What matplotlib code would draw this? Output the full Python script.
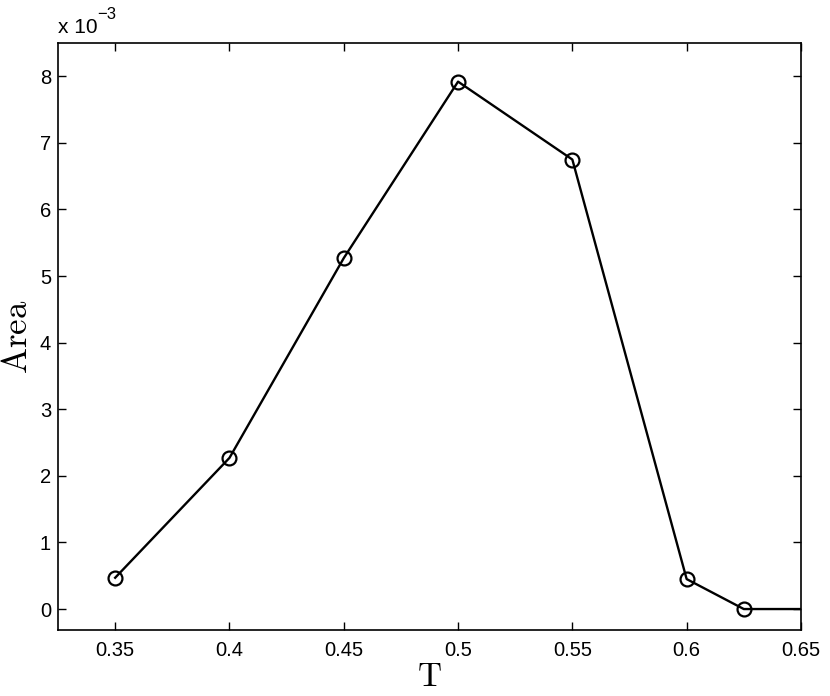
import numpy as np
import matplotlib
matplotlib.use('Agg')
import matplotlib.pyplot as plt

plt.rcParams['font.family'] = ['Liberation Sans', 'DejaVu Sans']
plt.rcParams['mathtext.fontset'] = 'cm'

T = [0.35, 0.4, 0.45, 0.5, 0.55, 0.6, 0.625, 0.65]
area = [0.47e-3, 2.27e-3, 5.27e-3, 7.92e-3, 6.75e-3, 0.45e-3, 0.0, 0.0]

fig = plt.figure(figsize=(8.3, 6.96), dpi=100)
ax = fig.add_axes([0.0699, 0.0948, 0.8951, 0.8434])

ax.plot(T, np.array(area) * 1e3, 'k-', lw=1.7, marker='o', mfc='none',
        mec='k', ms=10, mew=1.6, markevery=list(range(7)))

ax.set_xlim(0.325, 0.65)
ax.set_ylim(-0.315, 8.5)
ax.set_xticks([0.35, 0.4, 0.45, 0.5, 0.55, 0.6, 0.65])
ax.set_xticklabels(['0.35', '0.4', '0.45', '0.5', '0.55', '0.6', '0.65'])
ax.set_yticks(range(0, 9))
ax.tick_params(direction='in', top=True, right=True, labelsize=14.5,
               length=6, width=1)
ax.tick_params(axis='x', pad=8)
ax.tick_params(axis='y', pad=5)
for s in ax.spines.values():
    s.set_linewidth(1.2)

ax.set_xlabel(r'$\mathrm{T}$', fontsize=24, labelpad=1)
ax.set_ylabel(r'$\mathrm{Area}$', fontsize=25, labelpad=4)
# exponent label, MATLAB style
fig.text(0.0699, 0.952, 'x 10', fontsize=15, ha='left', va='baseline')
fig.text(0.117, 0.972, '\u2212' + '3', fontsize=12, ha='left',
         va='baseline')

fig.savefig('out.png', dpi=100)
